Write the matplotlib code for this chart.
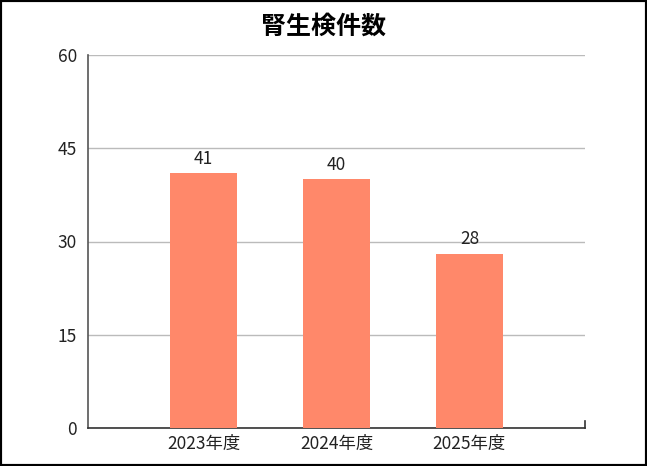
import matplotlib
matplotlib.use("Agg")
import matplotlib.pyplot as plt
from matplotlib.patches import Rectangle

plt.rcParams['font.family'] = ['Noto Sans CJK JP', 'DejaVu Sans']

categories = ['2023年度', '2024年度', '2025年度']
values = [41, 40, 28]
yticks = [0, 15, 30, 45, 60]
title = '腎生検件数'
bar_color = '#FF886A'

fig = plt.figure(figsize=(6.47, 4.66), dpi=100)
ax = fig.add_axes([88/647, 1-428/466, (585-88)/647, (428-55)/466])

x = list(range(len(categories)))
bars = ax.bar(x, values, width=0.5, color=bar_color, zorder=3)
for xi, v in zip(x, values):
    ax.annotate(str(v), (xi, v), xytext=(0, 4), textcoords='offset points',
                ha='center', va='bottom', fontsize=12.5, color='#222222')

ax.set_xlim(-0.87, 2.87)
ax.set_ylim(0, 60)
ax.set_yticks(yticks)
ax.set_xticks(x)
ax.set_xticklabels(categories)
ax.tick_params(axis='both', length=0, labelsize=12.5, colors='#222222')
ax.tick_params(axis='y', pad=8)
ax.tick_params(axis='x', pad=5)
ax.grid(axis='y', color='#BBBBBB', linewidth=1, zorder=0)
for s in ['top', 'right']:
    ax.spines[s].set_visible(False)
ax.spines['left'].set_color('#555555')
ax.spines['bottom'].set_color('#333333')
ax.spines['left'].set_linewidth(1.2)
ax.spines['bottom'].set_linewidth(1.2)
# small tick at right end of x-axis
ax.plot([1, 1], [0, 0.02], transform=ax.transAxes, color='#333333', lw=1.2, clip_on=False)

fig.suptitle(title, y=1-27/466, va='center', fontsize=18, fontweight='bold')

fig.patches.append(Rectangle((0, 0), 1, 1, transform=fig.transFigure,
                             fill=False, edgecolor='black', linewidth=3))
fig.savefig('out.png', dpi=100)
